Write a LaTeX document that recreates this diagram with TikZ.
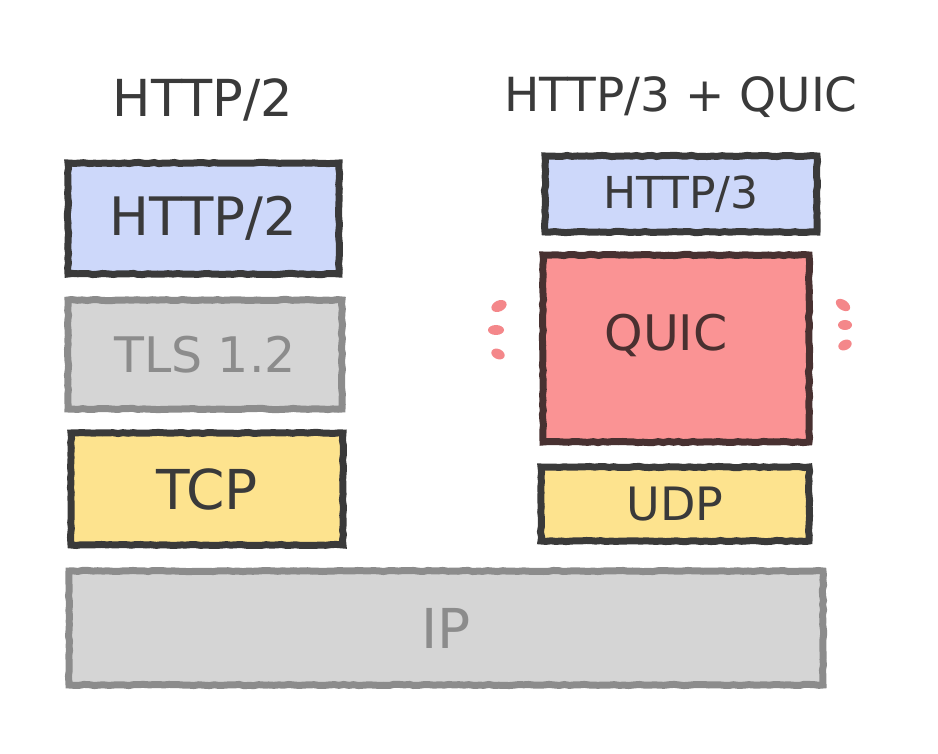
\documentclass[tikz,border=0pt]{standalone}
\usepackage{fontspec}
\setmainfont{DejaVu Sans}
\usetikzlibrary{decorations.pathmorphing}
\definecolor{inkdark}{HTML}{3A3A3A}
\definecolor{inkgray}{HTML}{8C8C8C}
\definecolor{fillblue}{HTML}{CDD8FA}
\definecolor{fillgray}{HTML}{D5D5D5}
\definecolor{fillyellow}{HTML}{FDE38E}
\definecolor{fillred}{HTML}{FA9394}
\definecolor{quicink}{HTML}{4A3030}
\definecolor{dotred}{HTML}{F4878A}
\tikzset{
  layer/.style={draw, line width=7pt, rectangle, inner sep=0pt, outer sep=0pt,
    decorate, decoration={random steps, segment length=5pt, amplitude=0.6pt}},
  darklayer/.style={layer, draw=inkdark, text=inkdark},
  graylayer/.style={layer, draw=inkgray, fill=fillgray, text=inkgray},
  title/.style={text=inkdark, inner sep=0pt},
  wiggle/.style={fill=dotred, draw=none, ellipse},
}
\newcommand{\fs}[1]{\fontsize{#1}{#1}\selectfont}
\begin{document}
\begin{tikzpicture}[x=1pt, y=-1pt]
\useasboundingbox (0,0) rectangle (938,754);
\fill[white] (0,0) rectangle (938,754);
% titles
\node[title, font=\fs{51}] (t2) at (203,100) {HTTP/2};
\node[title, font=\fs{47}] (t3) at (681,97) {HTTP/3 + QUIC};
% HTTP/2 stack
\node[darklayer, fill=fillblue, minimum width=271pt, minimum height=111pt, font=\fs{53}] (h2) at (203.5,218.5) {HTTP/2};
\node[graylayer, minimum width=274pt, minimum height=109pt, font=\fs{49}] (tls) at (205,354.5) {TLS 1.2};
\node[darklayer, fill=fillyellow, minimum width=272pt, minimum height=112pt, font=\fs{55}] (tcp) at (207,489) {TCP};
% HTTP/3 stack
\node[darklayer, fill=fillblue, minimum width=272pt, minimum height=76pt, font=\fs{44}] (h3) at (681,194) {HTTP/3};
\node[darklayer, draw=quicink!85!inkdark, fill=fillred, minimum width=266pt, minimum height=187pt] (quic) at (676,348.5) {};
\node[title, text=quicink, font=\fs{49}] (quictext) at (666,335) {QUIC};
\node[darklayer, fill=fillyellow, minimum width=268pt, minimum height=74pt, font=\fs{46}] (udp) at (675,504) {UDP};
% IP
\node[graylayer, minimum width=754pt, minimum height=114pt, font=\fs{55}] (ip) at (446,628) {IP};
% wiggle marks
\fill[dotred, rotate around={25:(499,306)}] (499,306) ellipse (8pt and 5.5pt);
\fill[dotred] (496,330) ellipse (8pt and 5pt);
\fill[dotred, rotate around={-25:(498,354)}] (498,354) ellipse (7pt and 5pt);
\fill[dotred, rotate around={-35:(843,305)}] (843,305) ellipse (8pt and 5pt);
\fill[dotred] (845,325) ellipse (7pt and 5pt);
\fill[dotred, rotate around={25:(845,345)}] (845,345) ellipse (7pt and 5pt);
\end{tikzpicture}
\end{document}
